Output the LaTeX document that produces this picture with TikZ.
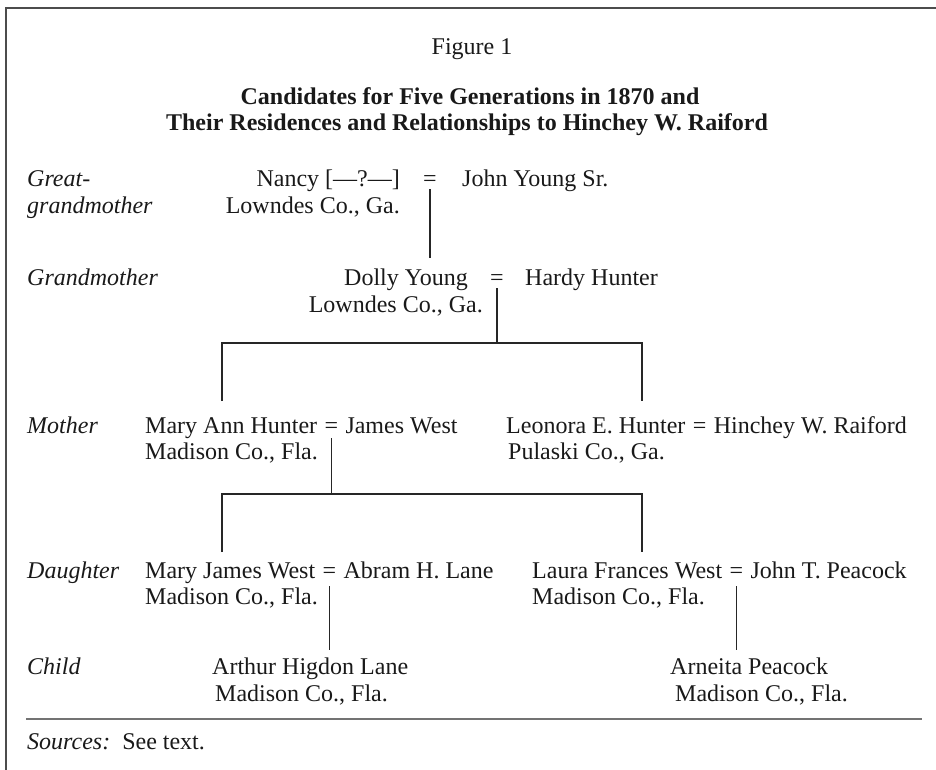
\documentclass[tikz,border=0pt]{standalone}
\usepackage{fontspec}
\setmainfont{Liberation Serif}
\begin{document}
\begin{tikzpicture}[x=1pt,y=-1pt,
  nm/.style={inner sep=0pt,text=black!90,font=\fontsize{24}{28}\selectfont},
  lbl/.style={nm,font=\fontsize{24}{28}\selectfont\itshape,anchor=base west},
  ttl/.style={nm,font=\fontsize{24}{28}\selectfont\bfseries,anchor=base},
  conn/.style={draw=black!85,line width=1.1pt},
  frameline/.style={draw=black!70,line width=2.2pt},
  rule/.style={draw=black!55,line width=2pt}]
\useasboundingbox (0,0) rectangle (936,770);
% frame
\draw[frameline] (936,8) -- (6,8) -- (6,770);
% titles
\node[nm,anchor=base] (fig) at (472,55) {Figure 1};
\node[ttl] (t1) at (470,105) {Candidates for Five Generations in 1870 and};
\node[ttl] (t2) at (467,131) {Their Residences and Relationships to Hinchey W. Raiford};
% generation labels
\node[lbl] (lgg1) at (27,186) {Great-};
\node[lbl] (lgg2) at (27,213) {grandmother};
\node[lbl] (lg) at (27,285) {Grandmother};
\node[lbl] (lm) at (27,433) {Mother};
\node[lbl] (ld) at (27,578) {Daughter};
\node[lbl] (lc) at (27,674) {Child};
% great-grandparents
\node[nm,anchor=base east] (nancy) at (400,186) {Nancy [—?—]};
\node[nm,anchor=base] (eqGG) at (430,186) {=};
\node[nm,anchor=base west] (john) at (462,186) {John Young Sr.};
\node[nm,anchor=base east] (resGG) at (400,213) {Lowndes Co., Ga.};
% grandparents
\node[nm,anchor=base east] (dolly) at (468,285) {Dolly Young};
\node[nm,anchor=base] (eqG) at (497,285) {=};
\node[nm,anchor=base west] (hardy) at (525,285) {Hardy Hunter};
\node[nm,anchor=base east] (resG) at (483,312) {Lowndes Co., Ga.};
% mothers
\node[nm,anchor=base west] (maryann) at (145,433) {Mary Ann Hunter};
\node[nm,anchor=base west] (eqM) at ([xshift=7pt]maryann.base east) {=};
\node[nm,anchor=base west] (james) at ([xshift=7pt]eqM.base east) {James West};
\node[nm,anchor=base west] (resM) at (145,459) {Madison Co., Fla.};
\node[nm,anchor=base west] (leonora) at (506,433) {Leonora E. Hunter};
\node[nm,anchor=base west] (eqL) at ([xshift=7pt]leonora.base east) {=};
\node[nm,anchor=base west] (hinchey) at ([xshift=7pt]eqL.base east) {Hinchey W. Raiford};
\node[nm,anchor=base west] (resL) at (508,459) {Pulaski Co., Ga.};
% daughters
\node[nm,anchor=base west] (maryj) at (145,578) {Mary James West};
\node[nm,anchor=base west] (eqD1) at ([xshift=7pt]maryj.base east) {=};
\node[nm,anchor=base west] (abram) at ([xshift=7pt]eqD1.base east) {Abram H. Lane};
\node[nm,anchor=base west] (resD1) at (145,604) {Madison Co., Fla.};
\node[nm,anchor=base west] (laura) at (532,578) {Laura Frances West};
\node[nm,anchor=base west] (eqD2) at ([xshift=7pt]laura.base east) {=};
\node[nm,anchor=base west] (johnp) at ([xshift=7pt]eqD2.base east) {John T. Peacock};
\node[nm,anchor=base west] (resD2) at (532,604) {Madison Co., Fla.};
% children
\node[nm,anchor=base west] (arthur) at (212,674) {Arthur Higdon Lane};
\node[nm,anchor=base west] (resC1) at (215,701) {Madison Co., Fla.};
\node[nm,anchor=base west] (arneita) at (670,674) {Arneita Peacock};
\node[nm,anchor=base west] (resC2) at (675,701) {Madison Co., Fla.};
% connectors
\path (eqGG.base) ++(0,3) coordinate (ggA);
\coordinate (ggB) at (ggA |- 0,258);
\draw[conn] (ggA) -- (ggB);
\path (eqG.base) ++(0,3) coordinate (gA);
\coordinate (gB) at (gA |- 0,343);
\coordinate (gL) at (222,343);
\coordinate (gR) at (642,343);
\draw[conn] (gA) -- (gB);
\draw[conn] (gL |- 0,401) -- (gL) -- (gR) -- (gR |- 0,401);
\path (eqM.base) ++(0,5) coordinate (mA);
\coordinate (mB) at (mA |- 0,494);
\coordinate (mL) at (222,494);
\coordinate (mR) at (642,494);
\draw[conn] (mA) -- (mB);
\draw[conn] (mL |- 0,552) -- (mL) -- (mR) -- (mR |- 0,552);
\path (eqD1.base) ++(0,8) coordinate (d1A);
\draw[conn] (d1A) -- (d1A |- 0,650);
\path (eqD2.base) ++(0,8) coordinate (d2A);
\draw[conn] (d2A) -- (d2A |- 0,650);
% bottom rule and sources
\draw[rule] (26,719) -- (922,719);
\node[nm,anchor=base west] (src) at (27,749) {\textit{Sources:}\enspace See text.};
\end{tikzpicture}
\end{document}
